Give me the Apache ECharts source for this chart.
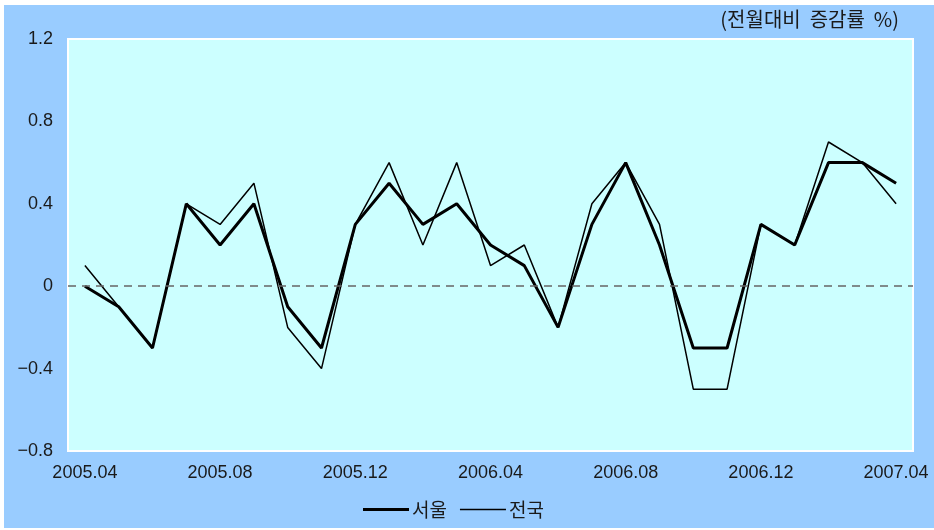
<!DOCTYPE html>
<html>
<head>
<meta charset="utf-8">
<script src="https://cdn.jsdelivr.net/npm/echarts@6/dist/echarts.min.js"></script>
<style>
  html, body { margin: 0; padding: 0; background: #ffffff; }
  #chart { width: 934px; height: 530px; }
</style>
</head>
<body>
<div id="chart"></div>
<script>
// Months from 2005.04 to 2007.04
const months = [
  '2005.04', '2005.05', '2005.06', '2005.07', '2005.08', '2005.09', '2005.10', '2005.11', '2005.12',
  '2006.01', '2006.02', '2006.03', '2006.04', '2006.05', '2006.06', '2006.07', '2006.08', '2006.09',
  '2006.10', '2006.11', '2006.12', '2007.01', '2007.02', '2007.03', '2007.04'
];

// Month-over-month change (%)
const seoul = [0, -0.1, -0.3, 0.4, 0.2, 0.4, -0.1, -0.3, 0.3, 0.5, 0.3, 0.4, 0.2, 0.1, -0.2, 0.3, 0.6, 0.2, -0.3, -0.3, 0.3, 0.2, 0.6, 0.6, 0.5];
const nation = [0.1, -0.1, -0.3, 0.4, 0.3, 0.5, -0.2, -0.4, 0.3, 0.6, 0.2, 0.6, 0.1, 0.2, -0.2, 0.4, 0.6, 0.3, -0.5, -0.5, 0.3, 0.2, 0.7, 0.6, 0.4];

const seriesNames = ['서울', '전국'];
const unitText = '(전월대비  증감률  %)';

const latin = '"Liberation Sans", Arial, sans-serif';
const hangul = '"Noto Sans CJK KR", sans-serif';

// Legend keys: a horizontal bar centred in a 46x14 box (thickness differs per series)
function barIcon(thickness) {
  const y0 = 7 - thickness / 2, y1 = 7 + thickness / 2;
  return 'path://M0,0 L46,0 L46,0 Z M0,' + y0 + ' L46,' + y0 + ' L46,' + y1 + ' L0,' + y1 +
    ' Z M0,14 L46,14 L46,14 Z';
}

const chart = echarts.init(document.getElementById('chart'), null, { renderer: 'canvas' });

chart.setOption({
  backgroundColor: '#ffffff',
  animation: false,
  graphic: [
    {
      type: 'rect',
      shape: { x: 4, y: 5, width: 930, height: 523 },
      style: { fill: '#99CCFF' },
      z: -10
    },
    {
      type: 'text',
      right: 35,
      top: 9,
      style: {
        text: unitText,
        font: '20px ' + hangul,
        fill: '#1a1a1a'
      }
    }
  ],
  grid: {
    left: 68,
    right: 21,
    top: 39,
    bottom: 79,
    show: true,
    backgroundColor: '#CCFFFF',
    borderColor: '#ffffff',
    borderWidth: 2
  },
  legend: {
    bottom: 6,
    left: 358,
    itemWidth: 46,
    itemHeight: 14,
    itemGap: 13,
    textStyle: { fontFamily: hangul, fontSize: 19, color: '#1a1a1a', padding: [0, 0, 0, -2] },
    data: [
      { name: seriesNames[0], icon: barIcon(3.2), itemStyle: { color: '#000000' } },
      { name: seriesNames[1], icon: barIcon(1.4), itemStyle: { color: '#000000' } }
    ]
  },
  xAxis: {
    type: 'category',
    data: months,
    boundaryGap: true,
    axisLine: { show: false },
    axisTick: { show: false },
    splitLine: { show: false },
    axisLabel: {
      interval: 3,
      margin: 13,
      fontFamily: latin,
      fontSize: 18,
      color: '#1a1a1a'
    }
  },
  yAxis: {
    type: 'value',
    min: -0.8,
    max: 1.2,
    interval: 0.4,
    axisLine: { show: false },
    axisTick: { show: false },
    splitLine: { show: false },
    axisLabel: {
      margin: 15,
      fontFamily: latin,
      fontSize: 18,
      color: '#1a1a1a',
      formatter: function (v) {
        const r = Math.round(v * 10) / 10;
        if (r === 0) return '0';
        return (r < 0 ? '\u2212' : '') + Math.abs(r).toFixed(1);
      }
    }
  },
  series: [
    {
      name: seriesNames[0],
      type: 'line',
      data: seoul,
      symbol: 'none',
      z: 3,
      lineStyle: { color: '#000000', width: 3 },
      itemStyle: { color: '#000000' },
      markLine: {
        silent: true,
        symbol: 'none',
        label: { show: false },
        lineStyle: { color: '#666666', width: 1.5, type: [8, 6] },
        data: [{ yAxis: 0 }]
      }
    },
    {
      name: seriesNames[1],
      type: 'line',
      data: nation,
      symbol: 'none',
      z: 2,
      lineStyle: { color: '#000000', width: 1.5 },
      itemStyle: { color: '#000000' }
    }
  ]
});
</script>
</body>
</html>
